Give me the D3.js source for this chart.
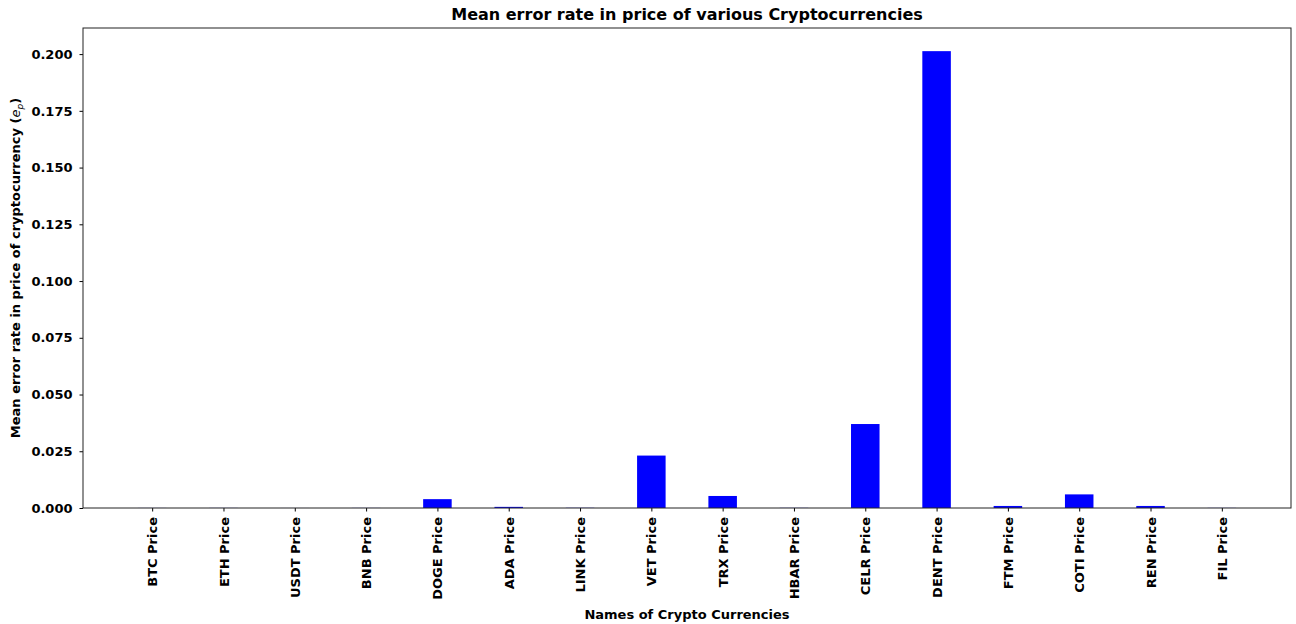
<!DOCTYPE html>
<html>
<head>
<meta charset="utf-8">
<script src="https://cdn.jsdelivr.net/npm/d3@7"></script>
<style>
  body { margin: 0; background: #fff; }
  text { font-family: "DejaVu Sans", sans-serif; font-weight: bold; }
</style>
</head>
<body>
<div id="canvas"></div>
<script>
// chart data
const coins = ["BTC Price", "ETH Price", "USDT Price", "BNB Price", "DOGE Price", "ADA Price",
  "LINK Price", "VET Price", "TRX Price", "HBAR Price", "CELR Price", "DENT Price",
  "FTM Price", "COTI Price", "REN Price", "FIL Price"]
const errorRates = [0.00003, 0.00004, 0.00001, 0.00004, 0.0039, 0.0005,
  0.00008, 0.0231, 0.0053, 0.00006, 0.0370, 0.2013,
  0.0009, 0.0060, 0.0009, 0.00005]
const yTicks = [0, 0.025, 0.05, 0.075, 0.1, 0.125, 0.15, 0.175, 0.2]

window.onload = function () { setup() }

function setup() {
  const width = 1296, height = 624
  const left = 83, right = 1291, top = 28, bottom = 508
  const fs = 13

  let svg = d3.select("#canvas")
    .append("svg")
    .attr("width", width)
    .attr("height", height)

  let x = d3.scaleLinear().domain([-0.97, 15.97]).range([left, right])
  let y = d3.scaleLinear().domain([0, 0.2115]).range([bottom, top])
  let barW = x(0.4) - x(0)

  svg.selectAll("rect.bar")
    .data(errorRates)
    .join("rect")
    .attr("class", "bar")
    .attr("x", (d, i) => x(i) - barW / 2)
    .attr("y", d => y(d))
    .attr("width", barW)
    .attr("height", d => y(0) - y(d))
    .attr("fill", "#0000ff")

  // y axis
  let yAxis = svg.append("g")
    .attr("transform", `translate(${left},0)`)
    .call(d3.axisLeft(y).tickValues(yTicks).tickFormat(d3.format(".3f")).tickSize(3.5).tickPadding(7))
  yAxis.select(".domain").remove()
  yAxis.selectAll("text").attr("font-size", fs).attr("fill", "#000")

  // x axis
  let xAxis = svg.append("g")
    .attr("transform", `translate(0,${bottom})`)
    .call(d3.axisBottom(x).tickValues(d3.range(coins.length)).tickFormat(i => coins[i]).tickSize(3.5))
  xAxis.select(".domain").remove()
  xAxis.selectAll("text")
    .attr("font-size", fs)
    .attr("fill", "#000")
    .attr("transform", "rotate(-90)")
    .attr("text-anchor", "end")
    .attr("x", -9)
    .attr("y", 0)
    .attr("dy", "0.35em")

  // frame
  svg.append("rect")
    .attr("x", left).attr("y", top)
    .attr("width", right - left).attr("height", bottom - top)
    .attr("fill", "none").attr("stroke", "#222").attr("stroke-width", 1)

  svg.append("text")
    .attr("x", (left + right) / 2).attr("y", 20)
    .attr("text-anchor", "middle")
    .attr("font-size", 16)
    .text("Mean error rate in price of various Cryptocurrencies")

  svg.append("text")
    .attr("x", (left + right) / 2).attr("y", 619)
    .attr("text-anchor", "middle")
    .attr("font-size", fs)
    .text("Names of Crypto Currencies")

  let yl = svg.append("text")
    .attr("transform", `translate(20,${(top + bottom) / 2}) rotate(-90)`)
    .attr("text-anchor", "middle")
    .attr("font-size", fs)
  yl.append("tspan").text("Mean error rate in price of cryptocurrency (")
  yl.append("tspan").attr("font-style", "italic").attr("font-weight", "normal").text("e")
  yl.append("tspan").attr("font-style", "italic").attr("font-weight", "normal")
    .attr("font-size", 9).attr("dy", 3).text("p")
  yl.append("tspan").attr("dy", -3).text(")")
}
</script>
</body>
</html>
